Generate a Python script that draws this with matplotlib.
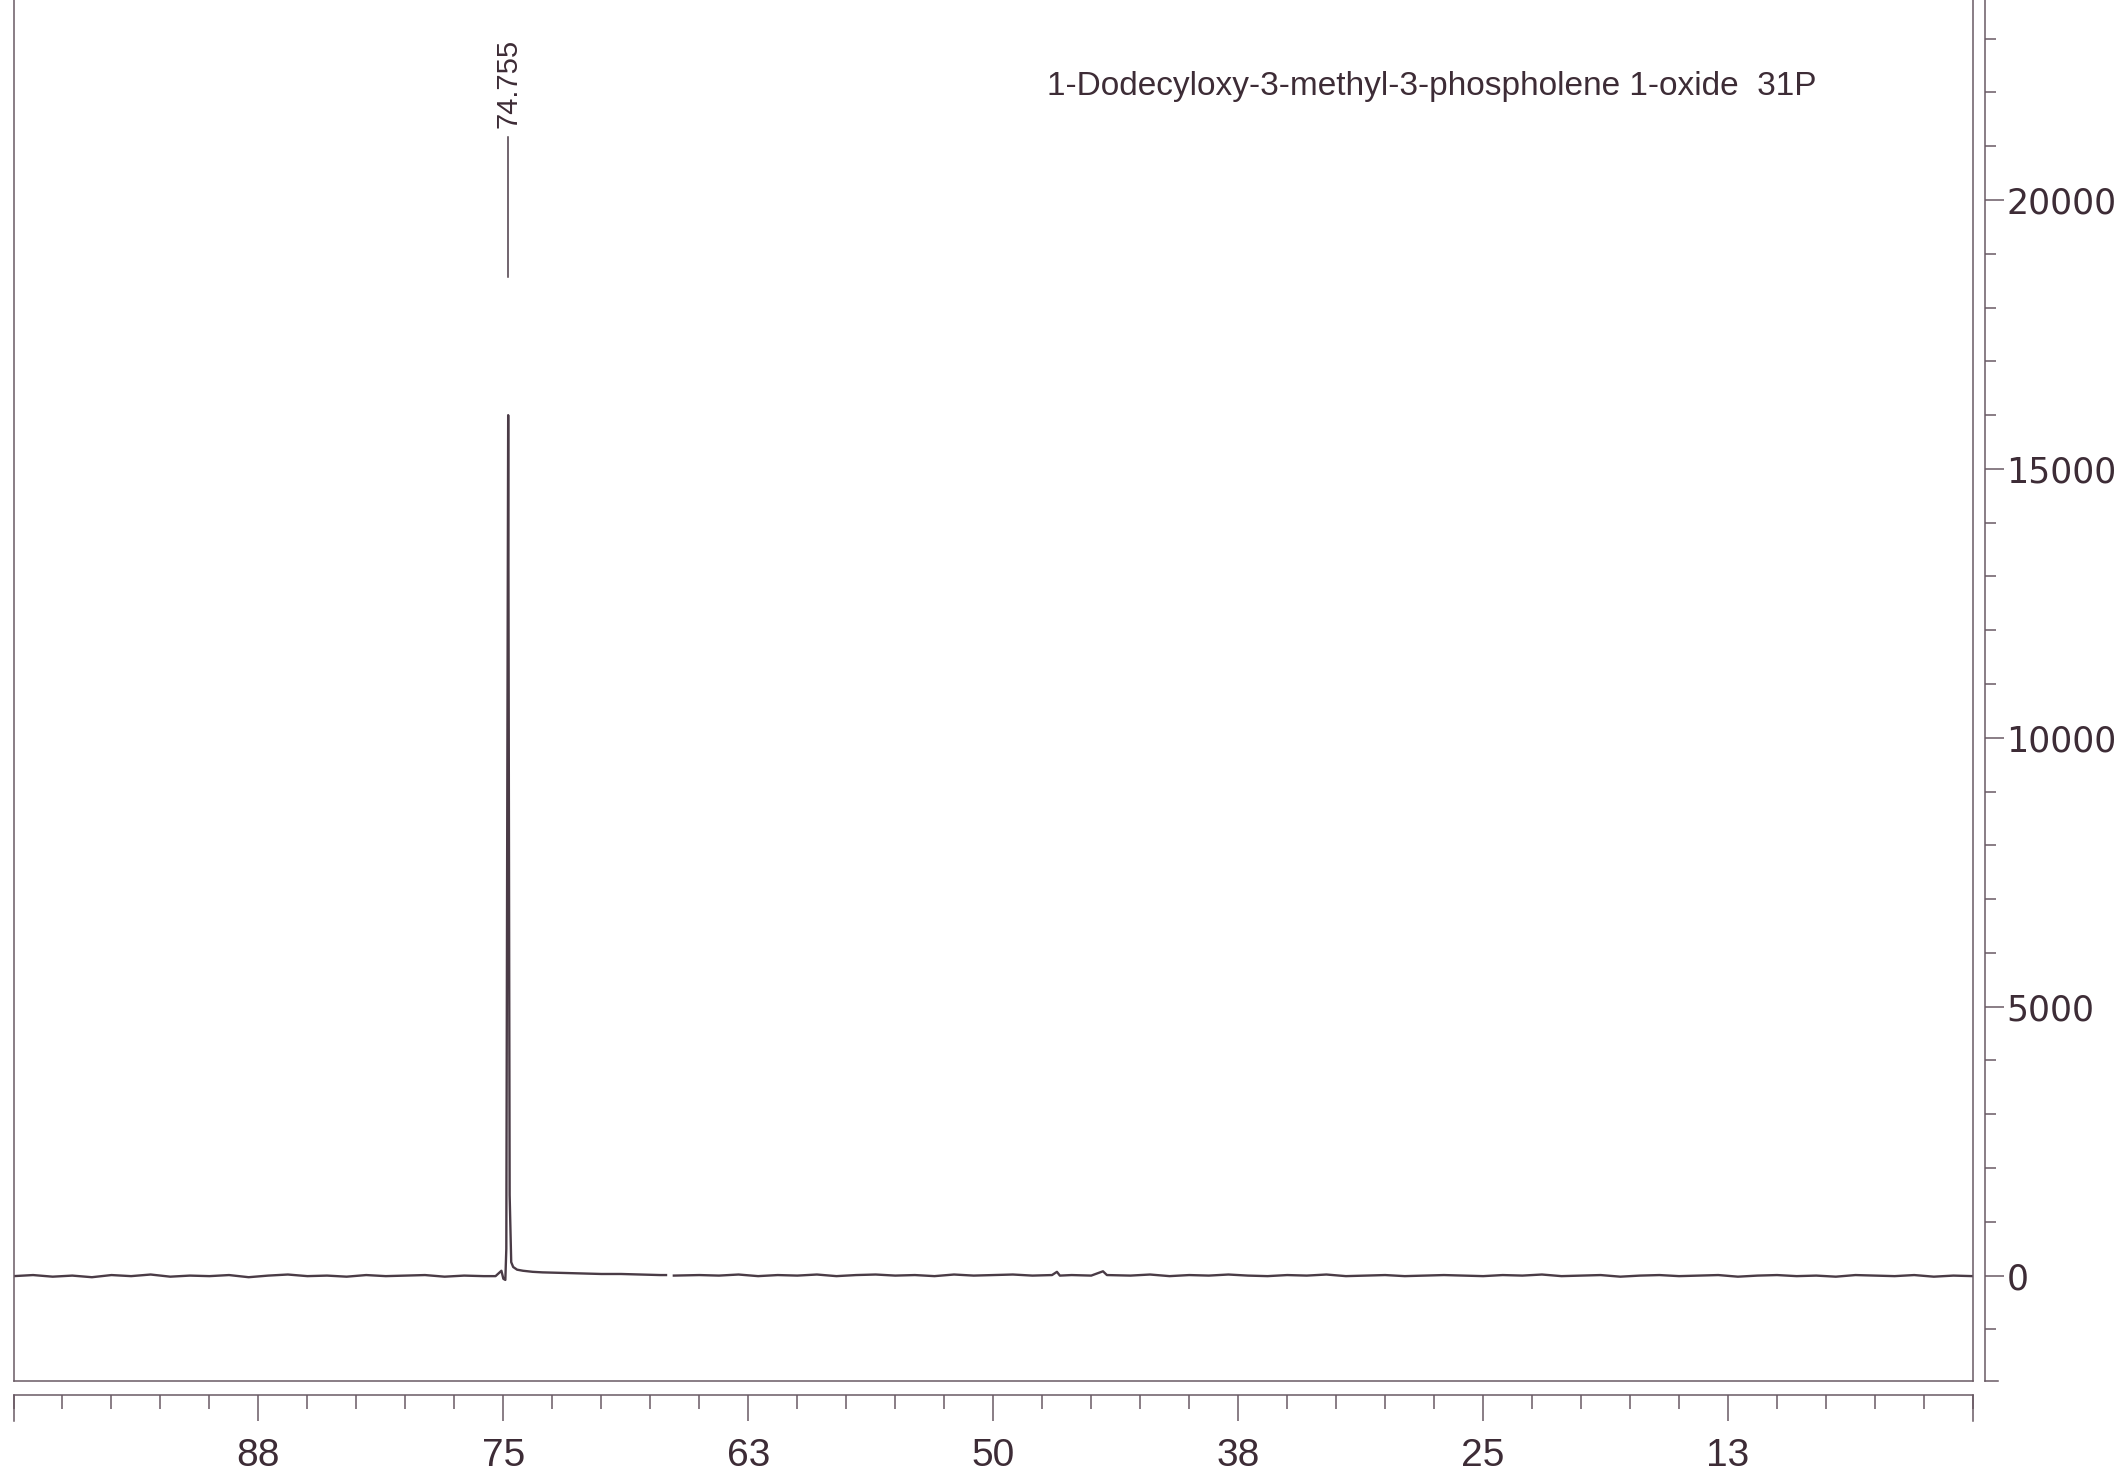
import numpy as np
import matplotlib
matplotlib.use("Agg")
import matplotlib.pyplot as plt
from matplotlib import font_manager
from matplotlib.ticker import FixedLocator, MultipleLocator

# ── Data ──────────────────────────────────────────────────────────────────────
TITLE = "1-Dodecyloxy-3-methyl-3-phospholene 1-oxide  31P"
PEAK_PPM = 74.755
PEAK_LABEL = "74.755"

ppm = [100.0, 99.0, 98.0, 97.0, 96.0, 95.0, 94.0, 93.0, 92.0, 91.0,
       90.0, 89.0, 88.0, 87.0, 86.0, 85.0, 84.0, 83.0, 82.0, 81.0,
       80.0, 79.0, 78.0, 77.0, 76.0, 75.4, 75.1, 75.0, 74.9, 74.85,
       74.8, 74.755, 74.72, 74.68, 74.6, 74.5, 74.3, 74.0, 73.5, 73.0,
       72.0, 71.0, 70.0, 69.0, 68.0, 67.0, 66.7, 66.5, 66.3, 65.0,
       64.0, 63.0, 62.0, 61.0, 60.0, 59.0, 58.0, 57.0, 56.0, 55.0,
       54.0, 53.0, 52.0, 51.0, 50.0, 49.0, 48.0, 47.0, 46.75, 46.6,
       46.0, 45.0, 44.4, 44.2, 43.0, 42.0, 41.0, 40.0, 39.0, 38.0,
       37.0, 36.0, 35.0, 34.0, 33.0, 32.0, 31.0, 30.0, 29.0, 28.0,
       27.0, 26.0, 25.0, 24.0, 23.0, 22.0, 21.0, 20.0, 19.0, 18.0,
       17.0, 16.0, 15.0, 14.0, 13.0, 12.0, 11.0, 10.0, 9.0, 8.0,
       7.0, 6.0, 5.0, 4.0, 3.0, 2.0, 1.0, 0.0]
intensity = [-10, 10, -20, 0, -30, 10, -10, 20, -20, 0,
             -10, 10, -30, 0, 20, -10, 0, -20, 10, -10,
             0, 10, -20, 0, -10, -10, 90, -60, -80, 500,
             9000, 16000, 9000, 1500, 250, 160, 110, 90, 70, 60,
             50, 40, 30, 30, 20, 10, 10, np.nan, 0, 10,
             0, 20, -10, 10, 0, 20, -10, 10, 20, 0,
             10, -10, 20, 0, 10, 20, 0, 10, 70, 0,
             10, 0, 80, 10, 0, 20, -10, 10, 0, 20,
             0, -10, 10, 0, 20, -10, 0, 10, -10, 0,
             10, 0, -10, 10, 0, 20, -10, 0, 10, -20,
             0, 10, -10, 0, 10, -20, 0, 10, -10, 0,
             -20, 10, 0, -10, 10, -20, 0, -10]

x_tick_pos = [87.5, 75.0, 62.5, 50.0, 37.5, 25.0, 12.5]
x_tick_labels = ["88", "75", "63", "50", "38", "25", "13"]
y_tick_pos = [0, 5000, 10000, 15000, 20000]
y_tick_labels = ["0", "5000", "10000", "15000", "20000"]

X_RANGE = (100, 0)
Y_RANGE = (-1960, 23720)
LEADER = (18570, 21170)     # leader line under the peak label
LABEL_BASE = 21340

INK = "#3d2c36"
LINE = "#4a3b46"
FRAME = "#6a5a64"

# narrow face for the ppm numbers if the system has it
try:
    font_manager.findfont(font_manager.FontProperties(family="Liberation Sans Narrow"),
                          fallback_to_default=False)
    PPM_FONT, PPM_SIZE = "Liberation Sans Narrow", 30
except ValueError:
    PPM_FONT, PPM_SIZE = "Liberation Sans", 28

W, H = 2119, 1476
fig = plt.figure(figsize=(W / 100, H / 100), dpi=100)
fig.patch.set_facecolor("white")


def px(x0, y0, x1, y1):
    """pixel box (top-left origin) -> figure fraction rect"""
    return [x0 / W, 1 - y1 / H, (x1 - x0) / W, (y1 - y0) / H]


# ── spectrum box ─────────────────────────────────────────────────────────────
ax = fig.add_axes(px(13.5, 0, 1973, 1381))
ax.plot(ppm, intensity, color=LINE, linewidth=1.7)
ax.plot([PEAK_PPM, PEAK_PPM], LEADER, color=LINE, linewidth=1.1)
ax.text(PEAK_PPM, LABEL_BASE, PEAK_LABEL, rotation=90, ha="center",
        va="bottom", fontsize=21, family="Liberation Sans", color=INK)
ax.set_xlim(*X_RANGE)
ax.set_ylim(*Y_RANGE)
ax.set_xticks([])
ax.set_yticks([])
ax.spines["top"].set_visible(False)
for s in ("left", "right", "bottom"):
    ax.spines[s].set_color(FRAME)
    ax.spines[s].set_linewidth(1.1)

# ── intensity scale on the right ─────────────────────────────────────────────
ay = fig.add_axes(px(1985, 0, 1998, 1381))
ay.set_ylim(*Y_RANGE)
ay.set_xticks([])
ay.yaxis.set_major_locator(FixedLocator(y_tick_pos))
ay.yaxis.set_minor_locator(MultipleLocator(1000))
ay.set_yticklabels(y_tick_labels)
ay.tick_params(axis="y", which="both", direction="in", left=True, right=False,
               labelleft=False, labelright=True, color=FRAME, width=1.1)
ay.tick_params(axis="y", which="major", length=14, pad=6, labelsize=25,
               labelcolor=INK)
ay.tick_params(axis="y", which="minor", length=8)
for lbl in ay.get_yticklabels():
    lbl.set_family("DejaVu Sans")
ay.spines["top"].set_visible(False)
ay.spines["right"].set_visible(False)
for s in ("left", "bottom"):
    ay.spines[s].set_color(FRAME)
    ay.spines[s].set_linewidth(1.1)
ay.patch.set_alpha(0)

# ── ppm scale underneath ─────────────────────────────────────────────────────
axx = fig.add_axes(px(13.5, 1395, 1973, 1421))
axx.set_xlim(*X_RANGE)
axx.set_yticks([])
axx.xaxis.set_major_locator(FixedLocator(x_tick_pos))
axx.xaxis.set_minor_locator(MultipleLocator(2.5))
axx.set_xticklabels(x_tick_labels)
axx.tick_params(axis="x", which="both", direction="in", top=True, bottom=False,
                labeltop=False, labelbottom=True, color=FRAME, width=1.1)
axx.tick_params(axis="x", which="major", length=19, pad=12, labelsize=PPM_SIZE,
                labelcolor=INK)
axx.tick_params(axis="x", which="minor", length=10)
for lbl in axx.get_xticklabels():
    lbl.set_family(PPM_FONT)
axx.spines["bottom"].set_visible(False)
for s in ("top", "left", "right"):
    axx.spines[s].set_color(FRAME)
    axx.spines[s].set_linewidth(1.1)
axx.patch.set_alpha(0)

fig.text(1047 / W, 1 - 86 / H, TITLE, ha="left", va="center", fontsize=24,
         family="Liberation Sans", color=INK)

fig.savefig("out.png", dpi=100, facecolor="white")
